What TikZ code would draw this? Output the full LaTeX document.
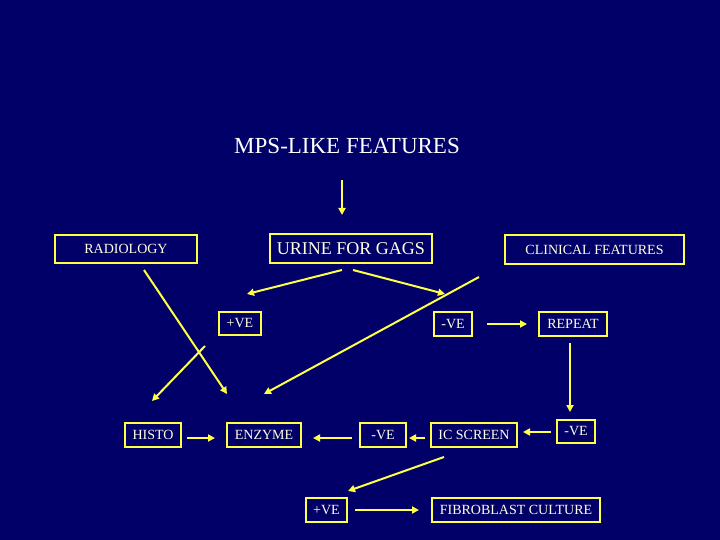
\documentclass[tikz,border=0pt]{standalone}
\usepackage{fontspec}
\setmainfont{Liberation Serif}
\usepackage{tikz}
\usepackage{xcolor}
\usetikzlibrary{positioning,shapes,arrows.meta}
\definecolor{navy}{RGB}{0,0,104}
\definecolor{gold}{RGB}{255,255,70}
\definecolor{cream}{RGB}{255,255,225}

\begin{document}
\begin{tikzpicture}[x=1pt,y=-1pt]
\fill[navy] (0,0) rectangle (720,540);
\useasboundingbox (0,0) rectangle (720,540);
      \draw node[text=white,font=\fontsize{23}{25}\selectfont,inner sep=0pt] (t) at (347,145.5) {MPS-LIKE FEATURES};
\tikzstyle{every node}=[draw=gold,line width=2pt,text=cream,font=\fontsize{14}{16}\selectfont,inner sep=0pt]
\tikzstyle{arr}=[draw=gold,line width=2pt,-{Triangle[length=7pt,width=7pt]}]

\draw node[minimum width=142,minimum height=28] (r) at (126,249) {RADIOLOGY};
\draw node[minimum width=162,minimum height=29,font=\fontsize{18}{20}\selectfont] (u) at (351,248.5) {URINE FOR GAGS};
\draw node[minimum width=179,minimum height=29] (c) at (594.5,249.5) {CLINICAL FEATURES};
\draw node[minimum width=42,minimum height=23] (p1) at (240,323.5) {+VE};
\draw node[minimum width=38,minimum height=24] (n1) at (453,324) {-VE};
\draw node[minimum width=68,minimum height=24] (rp) at (573,324) {REPEAT};
\draw node[minimum width=56,minimum height=24] (h) at (153,435) {HISTO};
\draw node[minimum width=74,minimum height=24] (e) at (264,435) {ENZYME};
\draw node[minimum width=46,minimum height=24] (n2) at (383,435) {-VE};
\draw node[minimum width=86,minimum height=24] (i) at (474,435) {IC SCREEN};
\draw node[minimum width=38,minimum height=23] (n3) at (576,431.5) {-VE};
\draw node[minimum width=41,minimum height=24] (p2) at (326.5,510) {+VE};
\draw node[minimum width=168,minimum height=24] (f) at (516,510) {FIBROBLAST CULTURE};
\coordinate (k) at (205,346);

\draw[arr] ([shift={(-5,27)}]t.south) -- ([shift={(-9,-18)}]u.north);
\draw[arr] ([shift={(-9,6)}]u.south) -- ([shift={(7,-17)}]p1.north);
\draw[arr] ([shift={(2,6)}]u.south) -- ([shift={(-8,-17)}]n1.north);
\draw[arr] ([shift={(-25,12)}]c.south west) -- ([shift={(0,-28)}]e.north);
\draw[arr] ([shift={(18,6)}]r.south) -- ([shift={(1,-28)}]e.north west);
\draw[arr] (k) -- ([shift={(-1,-21)}]h.north);
\draw[arr] ([shift={(5,3)}]h.east) -- ([shift={(-11,3)}]e.west);
\draw[arr] ([shift={(-7,3)}]n2.west) -- ([shift={(11,3)}]e.east);
\draw[arr] ([shift={(-5,3)}]i.west) -- ([shift={(2,3)}]n2.east);
\draw[arr] ([shift={(-5,0.5)}]n3.west) -- ([shift={(5,-3)}]i.east);
\draw[arr] ([shift={(-3,6)}]rp.south) -- ([shift={(-6,-7)}]n3.north);
\draw[arr] ([shift={(14,0)}]n1.east) -- ([shift={(-11,0)}]rp.west);
\draw[arr] ([shift={(-30,9)}]i.south) -- ([shift={(21.5,-6)}]p2.north);
\draw[arr] ([shift={(7,0)}]p2.east) -- ([shift={(-12,0)}]f.west);
\end{tikzpicture}
\end{document}
